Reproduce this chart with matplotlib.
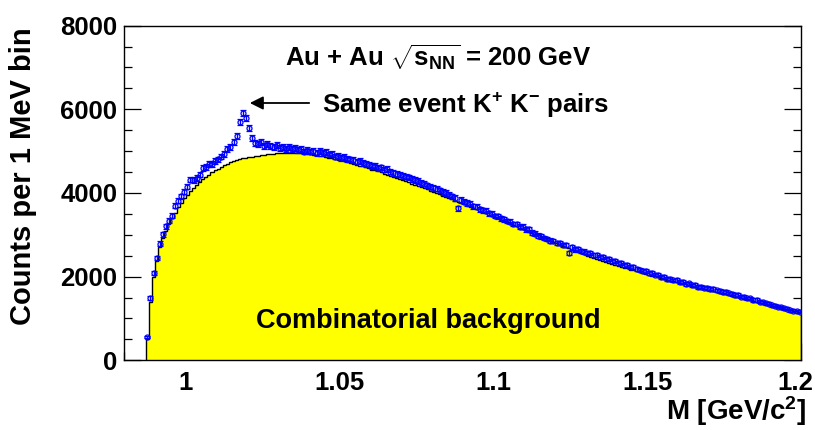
import numpy as np
import matplotlib
matplotlib.use("Agg")
import matplotlib.pyplot as plt
from matplotlib.transforms import ScaledTranslation

plt.rcParams['font.family'] = ['Liberation Sans', 'DejaVu Sans']
plt.rcParams['font.weight'] = 'bold'
plt.rcParams['mathtext.fontset'] = 'custom'
plt.rcParams['mathtext.rm'] = 'Liberation Sans:bold'
plt.rcParams['mathtext.bf'] = 'Liberation Sans:bold'
plt.rcParams['mathtext.it'] = 'Liberation Sans:bold'
plt.rcParams['mathtext.default'] = 'bf'

# 1 MeV bins starting at the K+K- threshold
bin_lo = 0.987
bin_hi = 1.200
n_bins = 213

# same event K+K- pairs (counts per bin)
same_event = [
    560, 1490, 2080, 2450, 2790, 3010, 3200, 3340, 3460, 3700,
    3810, 3920, 4030, 4150, 4320, 4310, 4360, 4440, 4590, 4620,
    4690, 4700, 4760, 4800, 4870, 4930, 5040, 5090, 5210, 5370,
    5690, 5910, 5790, 5560, 5310, 5190, 5170, 5210, 5120, 5180,
    5130, 5090, 5150, 5070, 5110, 5060, 5090, 5040, 5070, 5020,
    5050, 4990, 5030, 4990, 5010, 4960, 5000, 4950, 4970, 4920,
    4930, 4870, 4890, 4840, 4860, 4810, 4800, 4790, 4750, 4760,
    4710, 4690, 4680, 4640, 4650, 4600, 4610, 4560, 4570, 4510,
    4480, 4460, 4440, 4400, 4390, 4370, 4330, 4310, 4290, 4240,
    4220, 4180, 4150, 4120, 4100, 4060, 4020, 4000, 3960, 3920,
    3880, 3640, 3830, 3790, 3760, 3740, 3680, 3670, 3610, 3590,
    3570, 3520, 3500, 3450, 3440, 3390, 3370, 3330, 3310, 3260,
    3260, 3190, 3190, 3130, 3130, 3050, 3030, 2980, 2960, 2920,
    2900, 2860, 2850, 2800, 2800, 2750, 2750, 2560, 2700, 2650,
    2650, 2610, 2600, 2570, 2560, 2520, 2510, 2470, 2460, 2420,
    2420, 2370, 2380, 2320, 2320, 2280, 2280, 2220, 2230, 2180,
    2170, 2140, 2130, 2090, 2090, 2050, 2050, 2000, 2000, 1950,
    1950, 1910, 1920, 1870, 1880, 1830, 1840, 1790, 1800, 1750,
    1760, 1740, 1730, 1700, 1700, 1670, 1660, 1640, 1630, 1600,
    1590, 1560, 1560, 1520, 1520, 1480, 1480, 1440, 1440, 1400,
    1390, 1360, 1350, 1320, 1310, 1280, 1270, 1240, 1230, 1200,
    1190, 1170, 1160,
]

# combinatorial (mixed event) background
background = [
    520, 1400, 1980, 2380, 2700, 2920, 3100, 3260, 3400, 3530,
    3660, 3770, 3870, 3960, 4050, 4130, 4200, 4270, 4330, 4390,
    4440, 4490, 4540, 4580, 4620, 4660, 4700, 4730, 4760, 4785,
    4805, 4825, 4840, 4855, 4870, 4885, 4895, 4905, 4915, 4925,
    4935, 4940, 4945, 4950, 4955, 4960, 4965, 4965, 4960, 4955,
    4950, 4945, 4935, 4925, 4915, 4905, 4890, 4875, 4860, 4845,
    4835, 4815, 4795, 4780, 4760, 4740, 4720, 4700, 4675, 4655,
    4635, 4610, 4585, 4560, 4540, 4515, 4490, 4465, 4440, 4410,
    4385, 4360, 4335, 4310, 4280, 4255, 4225, 4200, 4170, 4145,
    4115, 4085, 4055, 4025, 3995, 3965, 3935, 3905, 3875, 3845,
    3815, 3785, 3755, 3725, 3695, 3665, 3635, 3605, 3575, 3545,
    3515, 3480, 3450, 3420, 3390, 3360, 3325, 3295, 3265, 3235,
    3205, 3170, 3140, 3110, 3075, 3045, 3015, 2985, 2950, 2920,
    2885, 2855, 2825, 2795, 2765, 2735, 2705, 2675, 2645, 2620,
    2590, 2565, 2535, 2505, 2480, 2455, 2430, 2405, 2380, 2360,
    2335, 2310, 2285, 2260, 2240, 2215, 2195, 2170, 2150, 2125,
    2105, 2085, 2065, 2045, 2025, 2005, 1985, 1965, 1945, 1925,
    1905, 1885, 1870, 1850, 1830, 1815, 1795, 1775, 1760, 1740,
    1725, 1705, 1685, 1670, 1650, 1635, 1615, 1595, 1580, 1560,
    1545, 1525, 1505, 1490, 1470, 1455, 1435, 1415, 1400, 1380,
    1365, 1345, 1325, 1310, 1290, 1275, 1255, 1235, 1220, 1200,
    1185, 1170, 1155,
]

x_ticks = [1.0, 1.05, 1.1, 1.15, 1.2]
x_tick_labels = ['1', '1.05', '1.1', '1.15', '1.2']
y_ticks = [0, 2000, 4000, 6000, 8000]

edges = np.linspace(bin_lo, bin_hi, n_bins + 1)
centers = 0.5 * (edges[:-1] + edges[1:])
same_event = np.array(same_event)
background = np.array(background)

fig = plt.figure(figsize=(8.15, 4.3), dpi=100)
ax = fig.add_axes([0.1525, 0.162, 0.8305, 0.7785])

ax.stairs(background, edges, fill=True, color='#ffff00', zorder=1)
ax.stairs(background, edges, color='black', linewidth=1.0, zorder=2)
ax.errorbar(centers, same_event, yerr=np.sqrt(same_event), fmt='o',
            mfc='none', mec='#0000ff', ecolor='#0000ff', ms=3.6, mew=0.9,
            elinewidth=1.0, capsize=2.3, capthick=1.0, zorder=3)

ax.set_xlim(0.98, 1.2)
ax.set_ylim(0, 8000)
ax.set_axisbelow(True)

ax.set_xticks(x_ticks)
ax.set_xticklabels(x_tick_labels)
ax.set_xticks(np.arange(0.98, 1.2001, 0.01), minor=True)
ax.set_yticks(y_ticks)
ax.set_yticks(np.arange(0, 8001, 500), minor=True)
ax.tick_params(which='both', direction='in', right=True, top=False, labelsize=18.5)
ax.tick_params(which='major', length=12, width=0.9)
ax.tick_params(which='minor', length=6, width=0.9)
ax.tick_params(axis='y', pad=5)
ax.tick_params(axis='x', pad=8)
for s in ax.spines.values():
    s.set_linewidth(1.0)

# last x label sits at the figure edge, nudge it in a little
last = ax.get_xticklabels()[-1]
last.set_transform(last.get_transform() + ScaledTranslation(-6 / 100, 0, fig.dpi_scale_trans))

ax.set_ylabel('Counts per 1 MeV bin', fontsize=21, fontweight='bold')
ax.yaxis.set_label_coords(-0.129, 0.551)
ax.set_xlabel(r'M [GeV/c$^{2}$]', fontsize=20, fontweight='bold', loc='right')
ax.xaxis.label.set_va('center')
ax.xaxis.set_label_coords(1.008, -0.152)

ax.text(1.0322, 7230, r'Au + Au $\sqrt{s_{NN}}$ = 200 GeV', fontsize=18.5,
        fontweight='bold', ha='left', va='center')
ax.text(1.0443, 6100, r'Same event K$^{+}$ K$^{-}$ pairs', fontsize=18.5,
        fontweight='bold', ha='left', va='center')
ax.annotate('', xy=(1.0199, 6150), xytext=(1.0410, 6150),
            arrowprops=dict(arrowstyle='-|>', color='black', lw=1.3,
                            mutation_scale=20))
ax.text(1.0787, 940, 'Combinatorial background', fontsize=19.5,
        fontweight='bold', ha='center', va='center', zorder=4)

fig.savefig('out.png', dpi=100)
